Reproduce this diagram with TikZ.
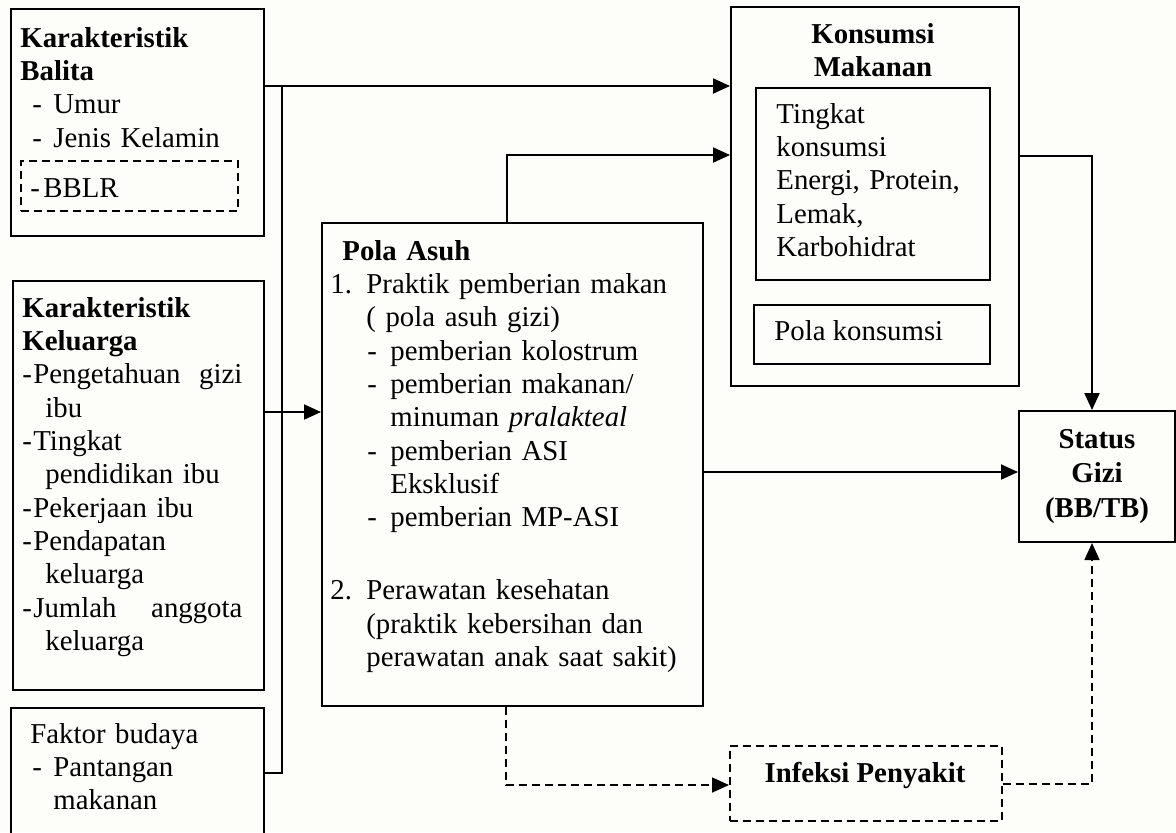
\documentclass[tikz,border=0pt]{standalone}
\usepackage{fontspec}
\setmainfont{Liberation Serif}
\usetikzlibrary{arrows.meta}
\newcommand{\fsz}{\fontsize{14.4}{16.67}\selectfont}
\definecolor{bgcol}{RGB}{253,253,249}
\begin{document}
\begin{tikzpicture}[x=0.5pt,y=-0.5pt,
  box/.style={draw,line width=1pt,inner sep=0,anchor=north west},
  dbox/.style={draw,line width=0.8pt,dash pattern=on 4pt off 2.5pt,inner sep=0,anchor=north west},
  txt/.style={inner sep=0,anchor=base west,align=left,font=\fsz},
  ctxt/.style={inner sep=0,anchor=base,align=center,font=\fsz},
  arr/.style={line width=1pt,-{Triangle[length=8.5pt,width=7.5pt]}},
  darr/.style={line width=0.8pt,dash pattern=on 4pt off 2.5pt,-{Triangle[length=8.5pt,width=7.5pt]}}]
\fill[bgcol] (0,0) rectangle (1176,832);
\useasboundingbox (0,0) rectangle (1176,832);
\clip (0,0) rectangle (1176,832);

% boxes
\node[box,minimum width=126.5pt,minimum height=113.5pt] (balita) at (10,8) {};
\node[dbox,minimum width=108.5pt,minimum height=25pt] (bblr) at (20,160) {};
\node[box,minimum width=125.5pt,minimum height=204.5pt] (keluarga) at (12,280) {};
\node[box,minimum width=126.5pt,minimum height=71.5pt] (budaya) at (10,707) {};
\node[box,minimum width=190.5pt,minimum height=241.5pt] (pola) at (321,222) {};
\node[box,minimum width=144pt,minimum height=189.5pt] (konsumsi) at (730,6) {};
\node[box,minimum width=117pt,minimum height=96pt] (tingkat) at (755,87) {};
\node[box,minimum width=118pt,minimum height=29.5pt] (polakons) at (753,304) {};
\node[box,minimum width=78pt,minimum height=65.5pt] (status) at (1018,410) {};
\node[dbox,minimum width=136pt,minimum height=37.5pt] (infeksi) at (729,745) {};

% texts
\node[txt,text width=115pt] (tbalita) at (20,47) {\textbf{Karakteristik}\\
\textbf{Balita}\\
\hspace*{6pt}\makebox[10.5pt][l]{-}Umur\\
\hspace*{6pt}\makebox[10.5pt][l]{-}Jenis Kelamin};
\node[txt] (tbblr) at (30,197) {\makebox[6.5pt][l]{-}BBLR};
\node[txt,text width=110pt] (tkeluarga) at (22,317) {\textbf{Karakteristik}\\
\textbf{Keluarga}\\
\makebox[5.5pt][l]{-}Pengetahuan\hfill gizi\\
\hspace*{11.5pt}ibu\\
\makebox[5.5pt][l]{-}Tingkat\\
\hspace*{11.5pt}pendidikan ibu\\
\makebox[5.5pt][l]{-}Pekerjaan ibu\\
\makebox[5.5pt][l]{-}Pendapatan\\
\hspace*{11.5pt}keluarga\\
\makebox[5.5pt][l]{-}Jumlah\hfill anggota\\
\hspace*{11.5pt}keluarga};
\node[txt,text width=110pt] (tbudaya) at (30,743) {Faktor budaya\\
\hspace*{1pt}\makebox[10.5pt][l]{-}Pantangan\\
\hspace*{11.5pt}makanan};
\node[txt,text width=185pt] (tpola) at (330,260) {\hspace*{6pt}\textbf{Pola Asuh}\\
\makebox[18pt][l]{1.}Praktik pemberian makan\\
\hspace*{18pt}( pola asuh gizi)\\
\hspace*{18.5pt}\makebox[11.5pt][l]{-}pemberian kolostrum\\
\hspace*{18.5pt}\makebox[11.5pt][l]{-}pemberian makanan/\\
\hspace*{30pt}minuman \textit{pralakteal}\\
\hspace*{18.5pt}\makebox[11.5pt][l]{-}pemberian ASI\\
\hspace*{30pt}Eksklusif\\
\hspace*{18.5pt}\makebox[11.5pt][l]{-}pemberian MP-ASI\\[19.8pt]
\makebox[18pt][l]{2.}Perawatan kesehatan\\
\hspace*{18pt}(praktik kebersihan dan\\
\hspace*{18pt}perawatan anak saat sakit)};
\node[ctxt,text width=130pt] (tkonsumsi) at (873,43) {\textbf{Konsumsi}\\\textbf{Makanan}};
\node[txt,text width=105pt] (ttingkat) at (776,123) {Tingkat\\konsumsi\\Energi, Protein,\\Lemak,\\Karbohidrat};
\node[txt] (tpolakons) at (774,340) {Pola konsumsi};
\node[ctxt,text width=75pt,font=\fontsize{14.4}{17.3}\selectfont] (tstatus) at (1097,448) {\textbf{Status}\\\textbf{Gizi}\\\textbf{(BB/TB)}};
\node[ctxt] (tinfeksi) at (865,782) {\textbf{Infeksi Penyakit}};

% junctions
\coordinate (ja) at (282,86);
\coordinate (jb) at (282,773);
\coordinate (jc) at (282,412);
\coordinate (jd) at (507,155);
\coordinate (je) at (1092,156);
\coordinate (jf) at (0,472);
\coordinate (jg) at (506,785);
\coordinate (jh) at (1092,784);

% connectors
\draw[arr] (ja -| balita.east) -- (ja -| konsumsi.west);
\draw[line width=1pt] (ja) -- (jb) -- (jb -| budaya.east);
\draw[arr] (jc -| keluarga.east) -- (jc -| pola.west);
\draw[arr] (jd |- pola.north) -- (jd) -- (jd -| konsumsi.west);
\draw[arr] (je -| konsumsi.east) -- (je) -- (je |- status.north);
\draw[arr] (jf -| pola.east) -- (jf -| status.west);
\draw[darr] (jg |- pola.south) -- (jg) -- (jg -| infeksi.west);
\draw[darr] (jh -| infeksi.east) -- (jh) -- (jh |- status.south);
\end{tikzpicture}
\end{document}
